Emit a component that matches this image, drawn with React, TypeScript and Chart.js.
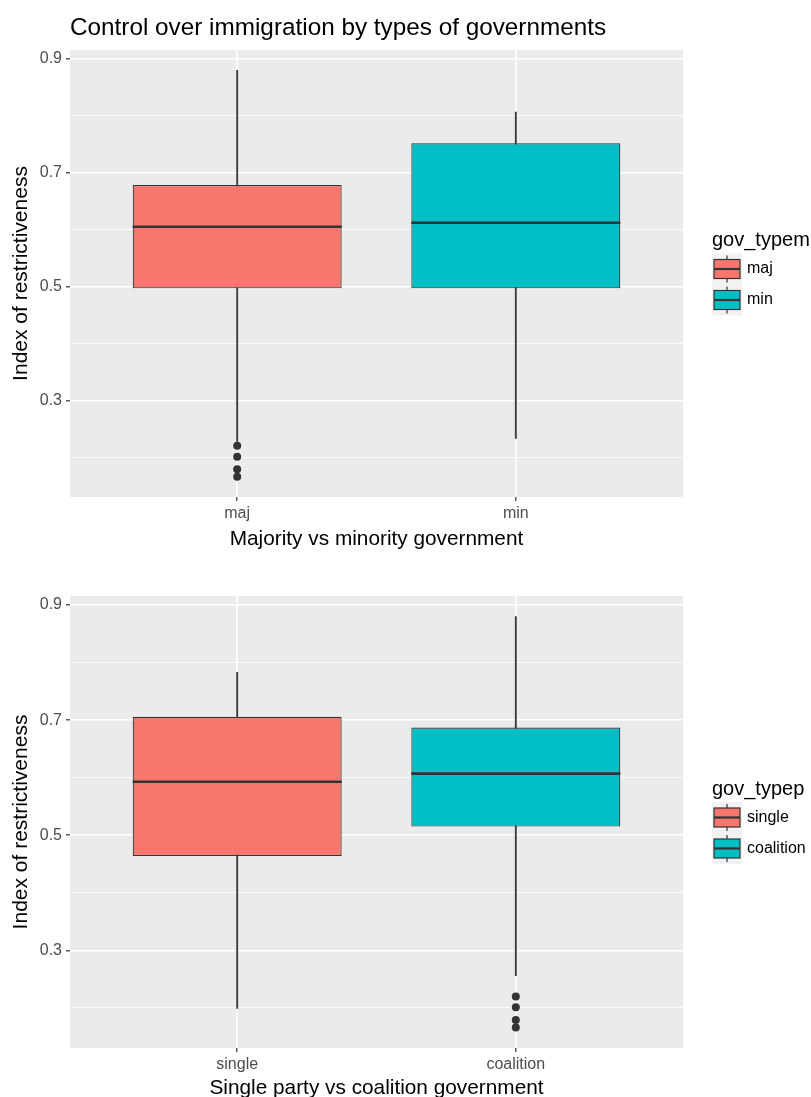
import { useEffect, useRef } from 'react';
import { Chart, registerables } from 'chart.js';

Chart.register(...registerables);

const FONT = "'Liberation Sans', Arial, Helvetica, sans-serif";
Chart.defaults.font.family = FONT;

// ---------- data ----------
const chartTitle = 'Control over immigration by types of governments';
const yAxisTitle = 'Index of restrictiveness';
const yTickValues = [0.2, 0.3, 0.4, 0.5, 0.6, 0.7, 0.8, 0.9];
const yMajorTicks = [0.3, 0.5, 0.7, 0.9];
const fillColors = ['#F8766D', '#00BFC4'];

// Panel 1: majority vs minority
const categoriesM = ['maj', 'min'];
const q1M = [0.497, 0.497];
const medianM = [0.605, 0.612];
const q3M = [0.678, 0.751];
const whiskerLowM = [0.229, 0.234];
const whiskerHighM = [0.879, 0.806];
const outliersM: number[][] = [[0.221, 0.202, 0.18, 0.167], []];
const xTitleM = 'Majority vs minority government';
const legendTitleM = 'gov_typem';

// Panel 2: single party vs coalition
const categoriesP = ['single', 'coalition'];
const q1P = [0.464, 0.515];
const medianP = [0.593, 0.607];
const q3P = [0.706, 0.687];
const whiskerLowP = [0.199, 0.256];
const whiskerHighP = [0.783, 0.88];
const outliersP: number[][] = [[], [0.22, 0.201, 0.179, 0.166]];
const xTitleP = 'Single party vs coalition government';
const legendTitleP = 'gov_typep';

type PanelSpec = {
  categories: string[];
  q1: number[];
  median: number[];
  q3: number[];
  whiskerLow: number[];
  whiskerHigh: number[];
  outliers: number[][];
  xTitle: string;
  legendTitle: string;
  title?: string;
  height: number;
  areaTop: number;
  areaBottom: number;
  xTitlePad: number;
};

const isMajor = (v: number) => yMajorTicks.some((m) => Math.abs(m - v) < 1e-9);

function buildChart(canvas: HTMLCanvasElement, spec: PanelSpec) {
  const all = [...spec.whiskerLow, ...spec.whiskerHigh, ...spec.outliers.flat()];
  const lo = Math.min(...all);
  const hi = Math.max(...all);
  const span = hi - lo;
  const yMin = lo - 0.05 * span;
  const yMax = hi + 0.05 * span;

  const panelBg = {
    id: 'panelBg',
    beforeDraw(chart: any) {
      const { ctx, chartArea: a } = chart;
      ctx.save();
      ctx.fillStyle = '#EBEBEB';
      ctx.fillRect(a.left, a.top, a.right - a.left, a.bottom - a.top);
      ctx.restore();
    },
  };

  const medianPlugin = {
    id: 'medians',
    afterDatasetsDraw(chart: any) {
      const { ctx } = chart;
      const meta = chart.getDatasetMeta(1);
      const yScale = chart.scales.y;
      ctx.save();
      ctx.strokeStyle = '#333333';
      ctx.lineWidth = 2.6;
      meta.data.forEach((el: any, i: number) => {
        const y = yScale.getPixelForValue(spec.median[i]);
        ctx.beginPath();
        ctx.moveTo(el.x - el.width / 2, y);
        ctx.lineTo(el.x + el.width / 2, y);
        ctx.stroke();
      });
      ctx.restore();
    },
  };

  const decorPlugin = {
    id: 'decor',
    afterDraw(chart: any) {
      const { ctx, chartArea: a } = chart;
      ctx.save();
      if (spec.title) {
        ctx.font = `24.3px ${FONT}`;
        ctx.fillStyle = '#000000';
        ctx.textAlign = 'left';
        ctx.textBaseline = 'alphabetic';
        ctx.fillText(spec.title, a.left, 35);
      }
      const mid = (a.top + a.bottom) / 2;
      const x0 = a.right + 29;
      ctx.font = `20px ${FONT}`;
      ctx.fillStyle = '#000000';
      ctx.textAlign = 'left';
      ctx.textBaseline = 'middle';
      ctx.fillText(spec.legendTitle, x0, mid - 33);
      const keyW = 30;
      const keyH = 31;
      spec.categories.forEach((c, i) => {
        const top = mid - 20 + i * keyH;
        ctx.fillStyle = '#F2F2F2';
        ctx.fillRect(x0, top, keyW, keyH);
        const cx = x0 + keyW / 2;
        ctx.strokeStyle = '#333333';
        ctx.lineWidth = 1.2;
        ctx.beginPath();
        ctx.moveTo(cx, top + 2);
        ctx.lineTo(cx, top + keyH - 2);
        ctx.stroke();
        ctx.fillStyle = fillColors[i];
        ctx.fillRect(x0 + 2, top + 6, keyW - 4, keyH - 12);
        ctx.strokeRect(x0 + 2, top + 6, keyW - 4, keyH - 12);
        ctx.lineWidth = 2.2;
        ctx.beginPath();
        ctx.moveTo(x0 + 2, top + keyH / 2);
        ctx.lineTo(x0 + keyW - 2, top + keyH / 2);
        ctx.stroke();
        ctx.fillStyle = '#000000';
        ctx.font = `16px ${FONT}`;
        ctx.fillText(c, x0 + keyW + 5, top + keyH / 2);
      });
      ctx.restore();
    },
  };

  const outlierPoints: { x: number; y: number }[] = [];
  spec.outliers.forEach((arr, i) => arr.forEach((v) => outlierPoints.push({ x: i + 1, y: v })));

  return new Chart(canvas, {
    type: 'bar',
    data: {
      datasets: [
        {
          type: 'bar',
          label: 'whiskers',
          data: spec.categories.map((_, i) => ({ x: i + 1, y: [spec.whiskerLow[i], spec.whiskerHigh[i]] })) as any,
          backgroundColor: '#3A3A3A',
          borderWidth: 0,
          barThickness: 1.2,
          grouped: false,
          order: 3,
        } as any,
        {
          type: 'bar',
          label: 'boxes',
          data: spec.categories.map((_, i) => ({ x: i + 1, y: [spec.q1[i], spec.q3[i]] })) as any,
          backgroundColor: fillColors,
          borderColor: '#333333',
          borderWidth: 1.2,
          borderSkipped: false,
          categoryPercentage: 1,
          barPercentage: 0.75,
          grouped: false,
          order: 2,
        } as any,
        {
          type: 'scatter',
          label: 'outliers',
          data: outlierPoints,
          backgroundColor: '#333333',
          borderWidth: 0,
          pointRadius: 4,
          order: 1,
        } as any,
      ],
    },
    options: {
      animation: false,
      responsive: false,
      devicePixelRatio: 1,
      layout: { padding: { top: spec.areaTop, right: 811 - 683, left: 0, bottom: 0 } },
      plugins: {
        legend: { display: false },
        title: { display: false },
        tooltip: { enabled: false },
      },
      scales: {
        x: {
          type: 'linear',
          min: 0.4,
          max: 2.6,
          offset: false,
          afterBuildTicks: (scale: any) => {
            scale.ticks = spec.categories.map((_, i) => ({ value: i + 1 }));
          },
          afterFit: (scale: any) => {
            scale.height = spec.height - spec.areaBottom;
          },
          ticks: {
            callback: (v: any) => spec.categories[Math.round(Number(v)) - 1] ?? '',
            color: '#4D4D4D',
            font: { size: 16, family: FONT },
            padding: 3,
            maxRotation: 0,
            autoSkip: false,
          },
          grid: {
            offset: false,
            color: '#FFFFFF',
            lineWidth: 1.6,
            tickColor: '#333333',
            tickLength: 4,
            tickWidth: 1.2,
          },
          border: { display: false },
          title: {
            display: true,
            text: spec.xTitle,
            color: '#000000',
            font: { size: 20.8, family: FONT },
            padding: { top: 0, bottom: spec.xTitlePad },
          },
        } as any,
        y: {
          type: 'linear',
          min: yMin,
          max: yMax,
          afterBuildTicks: (scale: any) => {
            scale.ticks = yTickValues.map((v) => ({ value: v }));
          },
          afterFit: (scale: any) => {
            scale.width = 70;
          },
          ticks: {
            callback: (v: any) => (isMajor(Number(v)) ? Number(v).toFixed(1) : ''),
            color: '#4D4D4D',
            font: { size: 16, family: FONT },
            padding: 4,
            autoSkip: false,
          },
          grid: {
            color: '#FFFFFF',
            lineWidth: (ctx: any) => (ctx.tick && isMajor(ctx.tick.value) ? 1.6 : 0.8),
            tickColor: (ctx: any) => (ctx.tick && isMajor(ctx.tick.value) ? '#333333' : 'rgba(0,0,0,0)'),
            tickLength: 4,
            tickWidth: 1.2,
          },
          border: { display: false },
          title: {
            display: true,
            text: yAxisTitle,
            color: '#000000',
            font: { size: 21, family: FONT },
            padding: { top: 9, bottom: 0 },
          },
        } as any,
      },
    },
    plugins: [panelBg, medianPlugin, decorPlugin],
  } as any);
}

const specM: PanelSpec = {
  categories: categoriesM,
  q1: q1M,
  median: medianM,
  q3: q3M,
  whiskerLow: whiskerLowM,
  whiskerHigh: whiskerHighM,
  outliers: outliersM,
  xTitle: xTitleM,
  legendTitle: legendTitleM,
  title: chartTitle,
  height: 556,
  areaTop: 50,
  areaBottom: 497,
  xTitlePad: 4,
};

const specP: PanelSpec = {
  categories: categoriesP,
  q1: q1P,
  median: medianP,
  q3: q3P,
  whiskerLow: whiskerLowP,
  whiskerHigh: whiskerHighP,
  outliers: outliersP,
  xTitle: xTitleP,
  legendTitle: legendTitleP,
  height: 541,
  areaTop: 40,
  areaBottom: 492,
  xTitlePad: -4,
};

export default function App() {
  const ref1 = useRef<HTMLCanvasElement | null>(null);
  const ref2 = useRef<HTMLCanvasElement | null>(null);

  useEffect(() => {
    const c1 = ref1.current ? buildChart(ref1.current, specM) : null;
    const c2 = ref2.current ? buildChart(ref2.current, specP) : null;
    return () => {
      c1?.destroy();
      c2?.destroy();
    };
  }, []);

  return (
    <div
      style={{
        position: 'absolute',
        left: 0,
        top: 0,
        width: 811,
        height: 1097,
        background: '#FFFFFF',
        overflow: 'hidden',
      }}
    >
      <canvas
        ref={ref1}
        width={811}
        height={specM.height}
        style={{ position: 'absolute', left: 0, top: 0, width: 811, height: specM.height }}
      />
      <canvas
        ref={ref2}
        width={811}
        height={specP.height}
        style={{ position: 'absolute', left: 0, top: specM.height, width: 811, height: specP.height }}
      />
    </div>
  );
}
